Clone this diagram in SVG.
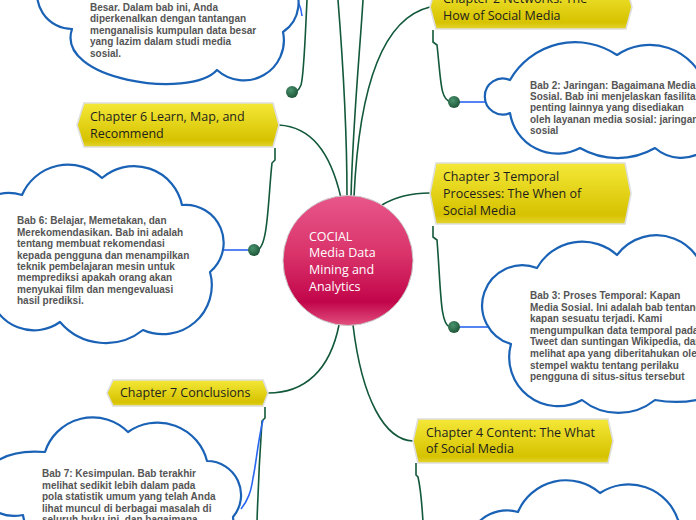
<svg xmlns="http://www.w3.org/2000/svg" width="696" height="520" viewBox="0 0 696 520">
<style>
.chap{font-family:"Open Sans","Noto Sans",sans-serif;font-size:12.5px;fill:#1e1e1e}
.ctr{font-family:"Open Sans","Noto Sans",sans-serif;font-size:12.5px;fill:#ffffff}
.note{font-family:"Liberation Sans",Arial,sans-serif;font-size:10px;font-weight:bold;fill:#555555}
.cloud{fill:#ffffff;stroke:#1a62b6;stroke-width:2.2;stroke-linejoin:round}
.green{fill:none;stroke:#12583a;stroke-width:1.6}
.blue{fill:none;stroke:#2a66f0;stroke-width:1.6}
.hex{fill:url(#yel);stroke:#dedede;stroke-width:1.6}
.dot{fill:url(#dotg)}
</style>
<defs>
<linearGradient id="yel" x1="0" y1="0" x2="0" y2="1">
<stop offset="0" stop-color="#f4e838"/>
<stop offset="0.85" stop-color="#d6c200"/>
<stop offset="1" stop-color="#e4d530"/>
</linearGradient>
<linearGradient id="pink" x1="0" y1="0" x2="0" y2="1">
<stop offset="0" stop-color="#e8578a"/>
<stop offset="0.45" stop-color="#d9336a"/>
<stop offset="0.82" stop-color="#c2054a"/>
<stop offset="1" stop-color="#e2507f"/>
</linearGradient>
<radialGradient id="dotg" cx="0.4" cy="0.35" r="0.7">
<stop offset="0" stop-color="#4a9470"/>
<stop offset="1" stop-color="#1b5234"/>
</radialGradient>
</defs>

<g id="connectors">
<path class="green" d="M347,197 C347,120 342,50 338,0"/>
<path class="green" d="M351,197 C353,120 360,50 363,0"/>
<path class="green" d="M354,197 C358,110 375,20 430,7"/>
<path class="green" d="M341,198 C330,150 310,127 279,125"/>
<path class="green" d="M382,205 C395,197 410,193 430,193"/>
<path class="green" d="M339,325 C330,370 305,393 268,393"/>
<path class="green" d="M353,325 C362,400 385,440 413,441"/>
<path class="blue" d="M296,-2 Q301,6 302,16"/>
<path class="green" d="M307,0 C305,40 304,75 301,85 C299,90 297,92 292,92"/>
<path class="green" d="M433,30 V42 L437,45 C441,80 440,100 451,102"/>
<path class="blue" d="M458,102 L488,102"/>
<path class="green" d="M433,226 V237 L437,240 C441,290 440,325 450,327"/>
<path class="blue" d="M458,327 L490,327"/>
<path class="green" d="M275,148 V160 L272,163 C268,200 268,248 257,250"/>
<path class="blue" d="M250,250 L223,250"/>
<path class="green" d="M265,407 V418 L262,421 C260,450 258,490 257,522"/>
<path class="blue" d="M263,420 C258,440 256,465 253,478 C251,492 248,500 241,509"/>
<path class="green" d="M416,463 V475 L418,477 C421,490 422,505 423,522"/>
<circle class="dot" cx="292" cy="92" r="6"/>
<circle class="dot" cx="454" cy="102" r="6"/>
<circle class="dot" cx="454" cy="327" r="6"/>
<circle class="dot" cx="254" cy="250" r="6"/>
</g>

<g id="center">
<circle cx="348" cy="260.5" r="65" fill="url(#pink)" stroke="#c9c9c9" stroke-width="1"/>
<text class="ctr" x="309" y="240.5">COCIAL</text>
<text class="ctr" x="309" y="257.3">Media Data</text>
<text class="ctr" x="309" y="274">Mining and</text>
<text class="ctr" x="309" y="290.7">Analytics</text>
</g>

<g id="chapter2">
<polygon class="hex" points="436,-15 626,-15 632,7 626,29 436,29 430,7"/>
<text class="chap" x="443" y="3">Chapter 2 Networks: The</text>
<text class="chap" x="443" y="20">How of Social Media</text>
</g>

<g id="chapter6">
<polygon class="hex" points="84,103 273,103 279,125 273,147 84,147 77,125"/>
<text class="chap" x="90" y="120.7">Chapter 6 Learn, Map, and</text>
<text class="chap" x="90" y="137.7">Recommend</text>
</g>

<g id="chapter3">
<polygon class="hex" points="436,163 625,163 631,193.5 625,224 436,224 430,193.5"/>
<text class="chap" x="443" y="180.5">Chapter 3 Temporal</text>
<text class="chap" x="443" y="197.5">Processes: The When of</text>
<text class="chap" x="443" y="214.5">Social Media</text>
</g>

<g id="chapter7">
<polygon class="hex" points="113,380 263,380 268,393 263,406 113,406 107,393"/>
<text class="chap" x="120" y="397.3">Chapter 7 Conclusions</text>
</g>

<g id="chapter4">
<polygon class="hex" points="418,419 608,419 613,441 608,463 418,463 413,441"/>
<text class="chap" x="426" y="437.3">Chapter 4 Content: The What</text>
<text class="chap" x="426" y="453.3">of Social Media</text>
</g>

<g id="note1">
<path class="cloud" d="M40,-20 L290,-20 A35,35 0 0 1 283,32 A40,40 0 0 1 217,70 C190,100 55,80 72,29 A35,35 0 0 1 40,-20 Z"/>
<text class="note" x="90" y="10.5">Besar. Dalam bab ini, Anda</text>
<text class="note" x="90" y="22">diperkenalkan dengan tantangan</text>
<text class="note" x="90" y="33.5">menganalisis kumpulan data besar</text>
<text class="note" x="90" y="45">yang lazim dalam studi media</text>
<text class="note" x="90" y="56.5">sosial.</text>
</g>

<g id="note2">
<path class="cloud" d="M510,113 A18,18 0 1 1 510,80 A75,75 0 0 1 617,55 A58,58 0 0 1 705,85 L705,150 A40,40 0 0 1 655,148 A75,75 0 0 1 580,148 A48,48 0 0 1 510,113 Z"/>
<text class="note" x="530" y="88.5">Bab 2: Jaringan: Bagaimana Media</text>
<text class="note" x="530" y="99.9">Sosial. Bab ini menjelaskan fasilitas</text>
<text class="note" x="530" y="111.3">penting lainnya yang disediakan</text>
<text class="note" x="530" y="122.7">oleh layanan media sosial: jaringan</text>
<text class="note" x="530" y="134.1">sosial</text>
</g>

<g id="note3">
<path class="cloud" d="M537,268 A52,52 0 0 1 617,255 A49,49 0 0 1 705,290 L705,398 A60,30 0 0 1 655,400 A58,58 0 0 1 582,400 A49,49 0 0 1 511,344 A40.2,40.2 0 1 1 537,268 Z"/>
<text class="note" x="530" y="299">Bab 3: Proses Temporal: Kapan</text>
<text class="note" x="530" y="310.6">Media Sosial. Ini adalah bab tentang</text>
<text class="note" x="530" y="322.2">kapan sesuatu terjadi. Kami</text>
<text class="note" x="530" y="333.8">mengumpulkan data temporal pada</text>
<text class="note" x="530" y="345.4">Tweet dan suntingan Wikipedia, dan</text>
<text class="note" x="530" y="357">melihat apa yang diberitahukan oleh</text>
<text class="note" x="530" y="368.6">stempel waktu tentang perilaku</text>
<text class="note" x="530" y="380.2">pengguna di situs-situs tersebut</text>
</g>

<g id="note6">
<path class="cloud" d="M-30,215 A45,45 0 0 1 22,195 A50,50 0 0 1 102,178 A49,49 0 0 1 182,205 A38,38 0 0 1 210,272 A49,49 0 0 1 143,330 A60,60 0 0 1 60,322 A45,45 0 0 1 -10,295 Z"/>
<text class="note" x="17" y="224.3">Bab 6: Belajar, Memetakan, dan</text>
<text class="note" x="17" y="235.7">Merekomendasikan. Bab ini adalah</text>
<text class="note" x="17" y="247.1">tentang membuat rekomendasi</text>
<text class="note" x="17" y="258.6">kepada pengguna dan menampilkan</text>
<text class="note" x="17" y="270">teknik pembelajaran mesin untuk</text>
<text class="note" x="17" y="281.4">memprediksi apakah orang akan</text>
<text class="note" x="17" y="292.9">menyukai film dan mengevaluasi</text>
<text class="note" x="17" y="304.3">hasil prediksi.</text>
</g>

<g id="note7">
<path class="cloud" d="M40,545 Q25,530 23,515 C-30,525 -40,445 45,452 A50,50 0 0 1 128,432 A51,51 0 0 1 207,461 A34,34 0 0 1 233,517 L236,545 Z"/>
<text class="note" x="42" y="477.3">Bab 7: Kesimpulan. Bab terakhir</text>
<text class="note" x="42" y="488.7">melihat sedikit lebih dalam pada</text>
<text class="note" x="42" y="500.1">pola statistik umum yang telah Anda</text>
<text class="note" x="42" y="511.6">lihat muncul di berbagai masalah di</text>
<text class="note" x="42" y="523">seluruh buku ini, dan bagaimana</text>
</g>

<g id="note4">
<path class="cloud" d="M470,535 A40,40 0 0 1 518,512 A52,52 0 0 1 600,493 A52,52 0 0 1 678,520 L690,535 Z"/>
</g>
</svg>
